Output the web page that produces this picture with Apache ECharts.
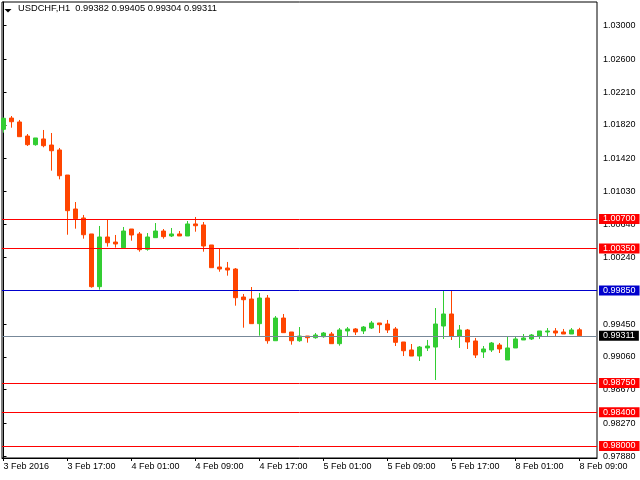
<!DOCTYPE html>
<html>
<head>
<meta charset="utf-8">
<script src="https://cdn.jsdelivr.net/npm/echarts@6/dist/echarts.min.js"></script>
<style>
html,body{margin:0;padding:0;background:#fff;}
#c{width:640px;height:480px;}
</style>
</head>
<body>
<div id="c"></div>
<script>
// ---- data ----
const symbolName = 'USDCHF';
const timeframe = 'H1';
const opens = [1.01767,1.01901,1.01854,1.01687,1.01584,1.01652,1.01580,1.01521,1.01223,1.00819,
  1.00712,1.00522,0.99895,1.00486,1.00426,1.00359,1.00581,1.00522,1.00340,1.00478,
  1.00557,1.00498,1.00522,1.00498,1.00641,1.00629,1.00391,1.00129,1.00117,1.00105,
  0.99772,0.99748,0.99455,0.99760,0.99252,0.99522,0.99356,0.99252,0.99308,0.99288,
  0.99300,0.99332,0.99217,0.99368,0.99392,0.99368,0.99403,0.99463,0.99451,0.99392,
  0.99237,0.99142,0.99070,0.99166,0.99177,0.99427,0.99570,0.99308,0.99380,0.99249,
  0.99118,0.99142,0.99201,0.99023,0.99166,0.99261,0.99273,0.99308,0.99356,0.99368,
  0.99356,0.99332,0.99382];
const highs = [1.01905,1.01925,1.01878,1.01711,1.01664,1.01759,1.01723,1.01545,1.01223,1.00902,
  1.00748,1.00522,1.00617,1.00688,1.00510,1.00605,1.00581,1.00545,1.00533,1.00652,
  1.00581,1.00593,1.00557,1.00676,1.00724,1.00664,1.00391,1.00355,1.00189,1.00117,
  0.99808,0.99891,0.99820,0.99796,0.99546,0.99570,0.99356,0.99415,0.99308,0.99344,
  0.99356,0.99356,0.99403,0.99415,0.99403,0.99427,0.99487,0.99463,0.99499,0.99415,
  0.99237,0.99213,0.99189,0.99261,0.99641,0.99848,0.99848,0.99439,0.99392,0.99285,
  0.99189,0.99237,0.99225,0.99308,0.99296,0.99332,0.99332,0.99368,0.99403,0.99403,
  0.99392,0.99403,0.99405];
const lows = [1.01727,1.01786,1.01679,1.01568,1.01572,1.01553,1.01275,1.01172,1.00513,1.00585,
  1.00466,0.99883,0.99859,1.00371,1.00359,1.00359,1.00442,1.00311,1.00323,1.00478,
  1.00466,1.00486,1.00498,1.00498,1.00549,1.00311,1.00121,1.00073,1.00026,0.99669,
  0.99407,0.99455,0.99312,0.99217,0.99252,0.99348,0.99205,0.99240,0.99229,0.99276,
  0.99288,0.99217,0.99193,0.99308,0.99320,0.99332,0.99392,0.99344,0.99344,0.99189,
  0.99070,0.99070,0.99011,0.99130,0.98785,0.99273,0.99261,0.99166,0.99154,0.99047,
  0.99047,0.99118,0.99106,0.99023,0.99166,0.99261,0.99261,0.99273,0.99308,0.99308,
  0.99332,0.99332,0.99304];
const closes = [1.01898,1.01857,1.01679,1.01584,1.01664,1.01572,1.01512,1.01215,1.00799,1.00704,
  1.00513,0.99895,1.00486,1.00418,1.00403,1.00557,1.00510,1.00335,1.00486,1.00557,
  1.00490,1.00522,1.00498,1.00641,1.00620,1.00379,1.00121,1.00105,1.00093,0.99764,
  0.99740,0.99455,0.99760,0.99252,0.99522,0.99348,0.99252,0.99308,0.99288,0.99320,
  0.99344,0.99217,0.99380,0.99392,0.99356,0.99415,0.99463,0.99443,0.99380,0.99233,
  0.99133,0.99070,0.99177,0.99189,0.99451,0.99570,0.99308,0.99380,0.99237,0.99082,
  0.99154,0.99225,0.99154,0.99166,0.99273,0.99285,0.99320,0.99368,0.99368,0.99344,
  0.99332,0.99380,0.99311];
const timeLabels = ['3 Feb 2016','3 Feb 17:00','4 Feb 01:00','4 Feb 09:00','4 Feb 17:00',
  '5 Feb 01:00','5 Feb 09:00','5 Feb 17:00','8 Feb 01:00','8 Feb 09:00'];
const timeLabelBars = [0,8,16,24,32,40,48,56,64,72];
const priceTicks = [1.03000,1.02600,1.02210,1.01820,1.01420,1.01030,1.00640,1.00240,
  0.99850,0.99450,0.99060,0.98670,0.98270,0.97880];
const redLevels = [1.00700,1.00350,0.98750,0.98400,0.98000];
const blueLevels = [0.99850];
const priceMin = 0.978571, priceMax = 1.032812;

// ---- build ----
const candleData = opens.map((o, i) => [i, o, closes[i], lows[i], highs[i]]);
const last = opens.length - 1;
const bid = closes[last];
const titleText = symbolName + ',' + timeframe + '  ' +
  [opens[last], highs[last], lows[last], closes[last]].map(v => v.toFixed(5)).join(' ');

const FONT = '"Liberation Sans", Arial, sans-serif';
function lvlLabel(bg) {
  return {
    show: true, position: 'end', distance: 2,
    formatter: p => Number(p.value).toFixed(5),
    color: '#fff', backgroundColor: bg, fontFamily: FONT, fontSize: 9,
    lineHeight: 10, padding: [0, 4, 0, 4]
  };
}
const markData = [];
redLevels.forEach(v => markData.push({ yAxis: v, lineStyle: { color: '#ff0000', width: 1, type: 'solid' }, label: lvlLabel('#ff0000') }));
blueLevels.forEach(v => markData.push({ yAxis: v, lineStyle: { color: '#0000cd', width: 1, type: 'solid' }, label: lvlLabel('#0000cd') }));
markData.push({ yAxis: bid, lineStyle: { color: '#778899', width: 1, type: 'solid' }, label: lvlLabel('#000000') });

const chart = echarts.init(document.getElementById('c'), null, { renderer: 'canvas' });
chart.setOption({
  animation: false,
  backgroundColor: '#fff',
  grid: { left: 2, right: 43, top: 2, bottom: 22, show: true, borderColor: '#000', borderWidth: 1, backgroundColor: '#fff' },
  xAxis: {
    type: 'value', min: -0.1875, max: 74.1875,
    axisLine: { show: true, lineStyle: { color: '#000' } },
    splitLine: { show: false },
    axisTick: { show: true, length: 3, customValues: timeLabelBars, lineStyle: { color: '#000' } },
    axisLabel: {
      customValues: timeLabelBars, align: 'left', margin: 4,
      formatter: v => timeLabels[timeLabelBars.indexOf(Math.round(v))] || '',
      color: '#000', fontFamily: FONT, fontSize: 9
    }
  },
  yAxis: {
    type: 'value', position: 'right', min: priceMin, max: priceMax, scale: true,
    axisLine: { show: true, lineStyle: { color: '#000' } },
    splitLine: { show: false },
    axisTick: { show: true, length: 3, inside: false, customValues: priceTicks, lineStyle: { color: '#000' } },
    axisLabel: {
      customValues: priceTicks, margin: 6,
      formatter: v => v.toFixed(5),
      color: '#000', fontFamily: FONT, fontSize: 9
    }
  },
  series: [{
    type: 'candlestick',
    data: candleData,
    barWidth: 4,
    itemStyle: { color: '#32cd32', color0: '#ff4500', borderColor: '#32cd32', borderColor0: '#ff4500', borderWidth: 1 },
    emphasis: { disabled: true },
    markLine: { silent: true, precision: 5, symbol: ['none', 'none'], animation: false, data: markData }
  }],
  graphic: [
    { type: 'polygon', shape: { points: [[4.5, 9], [11.5, 9], [8, 12.5]] }, style: { fill: '#000' } },
    { type: 'text', left: 18, top: 4, style: { text: titleText, fill: '#000', font: '9.3px ' + FONT } }
  ]
});
</script>
</body>
</html>
